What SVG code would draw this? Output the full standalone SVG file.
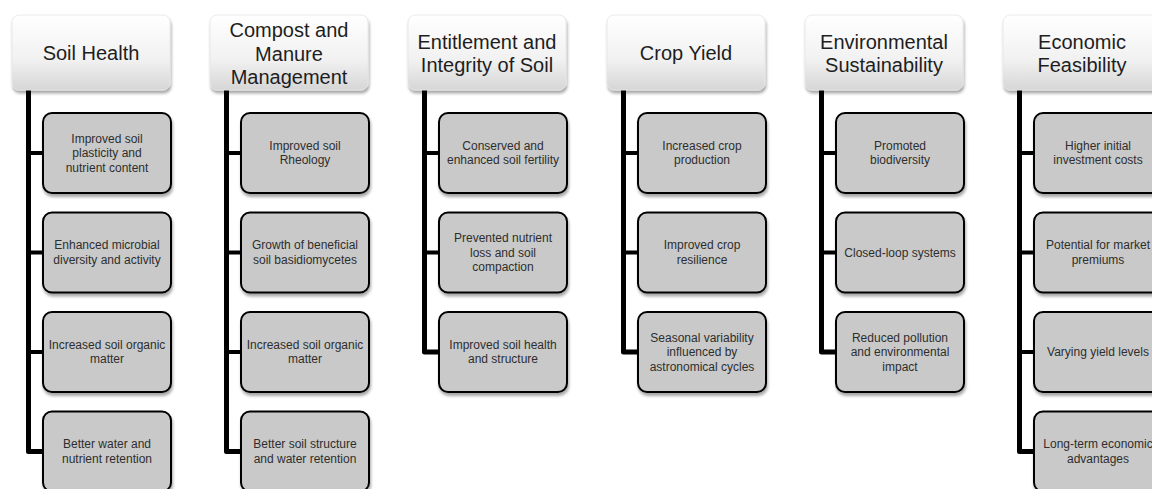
<svg xmlns="http://www.w3.org/2000/svg" width="1152" height="489" viewBox="0 0 1152 489">
<defs>
<linearGradient id="hg" x1="0" y1="0" x2="0" y2="1">
<stop offset="0" stop-color="#ffffff"/>
<stop offset="0.6" stop-color="#f1f1f1"/>
<stop offset="1" stop-color="#d6d6d6"/>
</linearGradient>
<filter id="sh" x="-10%" y="-10%" width="125%" height="130%">
<feGaussianBlur in="SourceAlpha" stdDeviation="1.8"/>
<feOffset dx="1" dy="2.5" result="b"/>
<feComponentTransfer><feFuncA type="linear" slope="0.35"/></feComponentTransfer>
<feMerge><feMergeNode/><feMergeNode in="SourceGraphic"/></feMerge>
</filter>
</defs>
<style>
.hdr{fill:url(#hg);stroke:#e4e4e4;stroke-width:0.8;filter:url(#sh)}
.box{fill:#c9c9c9;stroke:#000;stroke-width:2;filter:url(#sh)}
.ht{font-family:"Liberation Sans",Arial,sans-serif;font-size:20px;fill:#1e1e1e;text-anchor:middle}
.bt{font-family:"Liberation Sans",Arial,sans-serif;font-size:12px;fill:#2e2e2e;text-anchor:middle}
.ln{fill:none;stroke:#000;stroke-width:5;stroke-linejoin:round}
.br{fill:none;stroke:#000;stroke-width:4}
</style>
<g id="connectors">
<path class="ln" d="M28.5 90 V451.5 H43"/>
<path class="br" d="M28.5 153 H43 M28.5 252.5 H43 M28.5 352 H43"/>
<path class="ln" d="M226.5 90 V451.5 H241"/>
<path class="br" d="M226.5 153 H241 M226.5 252.5 H241 M226.5 352 H241"/>
<path class="ln" d="M424.5 90 V352 H439"/>
<path class="br" d="M424.5 153 H439 M424.5 252.5 H439"/>
<path class="ln" d="M623.5 90 V352 H638"/>
<path class="br" d="M623.5 153 H638 M623.5 252.5 H638"/>
<path class="ln" d="M821.5 90 V352 H836"/>
<path class="br" d="M821.5 153 H836 M821.5 252.5 H836"/>
<path class="ln" d="M1019.5 90 V451.5 H1034"/>
<path class="br" d="M1019.5 153 H1034 M1019.5 252.5 H1034 M1019.5 352 H1034"/>
</g>
<g id="h0"><rect class="hdr" x="12" y="15" width="158" height="75" rx="7"/><text class="ht" x="91" y="60">Soil Health</text></g>
<g id="h1"><rect class="hdr" x="210" y="15" width="158" height="75" rx="7"/><text class="ht" x="289" y="37">Compost and</text><text class="ht" x="289" y="60.5">Manure</text><text class="ht" x="289" y="84">Management</text></g>
<g id="h2"><rect class="hdr" x="408" y="15" width="158" height="75" rx="7"/><text class="ht" x="487" y="48.5">Entitlement and</text><text class="ht" x="487" y="72">Integrity of Soil</text></g>
<g id="h3"><rect class="hdr" x="607" y="15" width="158" height="75" rx="7"/><text class="ht" x="686" y="60">Crop Yield</text></g>
<g id="h4"><rect class="hdr" x="805" y="15" width="158" height="75" rx="7"/><text class="ht" x="884" y="48.5">Environmental</text><text class="ht" x="884" y="72">Sustainability</text></g>
<g id="h5"><rect class="hdr" x="1003" y="15" width="158" height="75" rx="7"/><text class="ht" x="1082" y="48.5">Economic</text><text class="ht" x="1082" y="72">Feasibility</text></g>

<g id="c0a"><rect class="box" x="43" y="113" width="128" height="80" rx="9"/><text class="bt" x="107" y="142.5">Improved soil</text><text class="bt" x="107" y="157">plasticity and</text><text class="bt" x="107" y="171.5">nutrient content</text></g>
<g id="c0b"><rect class="box" x="43" y="212.5" width="128" height="80" rx="9"/><text class="bt" x="107" y="249.3">Enhanced microbial</text><text class="bt" x="107" y="263.8">diversity and activity</text></g>
<g id="c0c"><rect class="box" x="43" y="312" width="128" height="80" rx="9"/><text class="bt" x="107" y="348.8">Increased soil organic</text><text class="bt" x="107" y="363.3">matter</text></g>
<g id="c0d"><rect class="box" x="43" y="411.5" width="128" height="80" rx="9"/><text class="bt" x="107" y="448.3">Better water and</text><text class="bt" x="107" y="462.8">nutrient retention</text></g>

<g id="c1a"><rect class="box" x="241" y="113" width="128" height="80" rx="9"/><text class="bt" x="305" y="149.8">Improved soil</text><text class="bt" x="305" y="164.3">Rheology</text></g>
<g id="c1b"><rect class="box" x="241" y="212.5" width="128" height="80" rx="9"/><text class="bt" x="305" y="249.3">Growth of beneficial</text><text class="bt" x="305" y="263.8">soil basidiomycetes</text></g>
<g id="c1c"><rect class="box" x="241" y="312" width="128" height="80" rx="9"/><text class="bt" x="305" y="348.8">Increased soil organic</text><text class="bt" x="305" y="363.3">matter</text></g>
<g id="c1d"><rect class="box" x="241" y="411.5" width="128" height="80" rx="9"/><text class="bt" x="305" y="448.3">Better soil structure</text><text class="bt" x="305" y="462.8">and water retention</text></g>

<g id="c2a"><rect class="box" x="439" y="113" width="128" height="80" rx="9"/><text class="bt" x="503" y="149.8">Conserved and</text><text class="bt" x="503" y="164.3">enhanced soil fertility</text></g>
<g id="c2b"><rect class="box" x="439" y="212.5" width="128" height="80" rx="9"/><text class="bt" x="503" y="242">Prevented nutrient</text><text class="bt" x="503" y="256.5">loss and soil</text><text class="bt" x="503" y="271">compaction</text></g>
<g id="c2c"><rect class="box" x="439" y="312" width="128" height="80" rx="9"/><text class="bt" x="503" y="348.8">Improved soil health</text><text class="bt" x="503" y="363.3">and structure</text></g>

<g id="c3a"><rect class="box" x="638" y="113" width="128" height="80" rx="9"/><text class="bt" x="702" y="149.8">Increased crop</text><text class="bt" x="702" y="164.3">production</text></g>
<g id="c3b"><rect class="box" x="638" y="212.5" width="128" height="80" rx="9"/><text class="bt" x="702" y="249.3">Improved crop</text><text class="bt" x="702" y="263.8">resilience</text></g>
<g id="c3c"><rect class="box" x="638" y="312" width="128" height="80" rx="9"/><text class="bt" x="702" y="341.5">Seasonal variability</text><text class="bt" x="702" y="356">influenced by</text><text class="bt" x="702" y="370.5">astronomical cycles</text></g>

<g id="c4a"><rect class="box" x="836" y="113" width="128" height="80" rx="9"/><text class="bt" x="900" y="149.8">Promoted</text><text class="bt" x="900" y="164.3">biodiversity</text></g>
<g id="c4b"><rect class="box" x="836" y="212.5" width="128" height="80" rx="9"/><text class="bt" x="900" y="256.5">Closed-loop systems</text></g>
<g id="c4c"><rect class="box" x="836" y="312" width="128" height="80" rx="9"/><text class="bt" x="900" y="341.5">Reduced pollution</text><text class="bt" x="900" y="356">and environmental</text><text class="bt" x="900" y="370.5">impact</text></g>

<g id="c5a"><rect class="box" x="1034" y="113" width="128" height="80" rx="9"/><text class="bt" x="1098" y="149.8">Higher initial</text><text class="bt" x="1098" y="164.3">investment costs</text></g>
<g id="c5b"><rect class="box" x="1034" y="212.5" width="128" height="80" rx="9"/><text class="bt" x="1098" y="249.3">Potential for market</text><text class="bt" x="1098" y="263.8">premiums</text></g>
<g id="c5c"><rect class="box" x="1034" y="312" width="128" height="80" rx="9"/><text class="bt" x="1098" y="356">Varying yield levels</text></g>
<g id="c5d"><rect class="box" x="1034" y="411.5" width="128" height="80" rx="9"/><text class="bt" x="1098" y="448.3">Long-term economic</text><text class="bt" x="1098" y="462.8">advantages</text></g>
</svg>
